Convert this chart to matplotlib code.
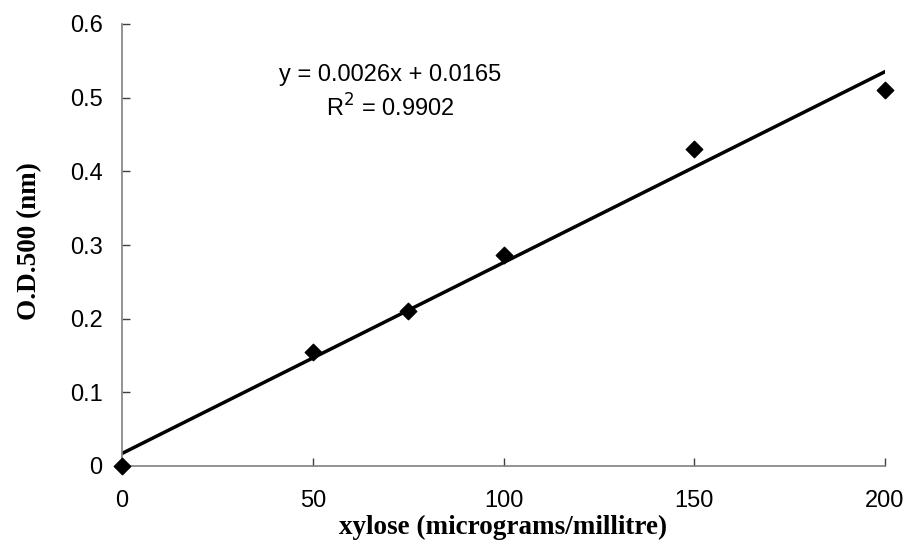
import numpy as np
import matplotlib
matplotlib.use("Agg")
import matplotlib.pyplot as plt

x_vals = [0, 50, 75, 100, 150, 200]
od_vals = [0.0, 0.155, 0.21, 0.287, 0.43, 0.51]
x_ticks = [0, 50, 100, 150, 200]
y_ticks = [0, 0.1, 0.2, 0.3, 0.4, 0.5, 0.6]
y_tick_labels = ["0", "0.1", "0.2", "0.3", "0.4", "0.5", "0.6"]
eq_text = "y = 0.0026x + 0.0165"
r2_text = "R$^2$ = 0.9902"

fig = plt.figure(figsize=(9.09, 5.45), dpi=100)
ax = fig.add_axes([122/909, 1-466/545, 763/909, 442/545])

slope, intercept = np.polyfit(x_vals, od_vals, 1)
xl = np.array([0, 200])
ax.plot(xl, slope*xl + intercept, color="black", lw=2.5, zorder=2)
ax.scatter(x_vals, od_vals, marker="D", s=70, color="black", zorder=3, clip_on=False)

ax.set_xlim(0, 200)
ax.set_ylim(0, 0.6)
ax.set_xticks(x_ticks)
ax.set_yticks(y_ticks)
ax.set_yticklabels(y_tick_labels)
for s in ["top", "right"]:
    ax.spines[s].set_visible(False)
for s in ["left", "bottom"]:
    ax.spines[s].set_color("#808080")
    ax.spines[s].set_linewidth(1.2)
ax.tick_params(direction="in", length=6, width=1, color="#404040",
               labelsize=17)
ax.tick_params(axis="x", pad=17)
ax.tick_params(axis="y", pad=14)
for lab in ax.get_xticklabels() + ax.get_yticklabels():
    lab.set_fontfamily("Liberation Sans")

ax.set_xlabel("xylose (micrograms/millitre)", fontfamily="Liberation Serif",
              fontweight="bold", fontsize=19.5, labelpad=2)
ax.set_ylabel("O.D.500 (nm)", fontfamily="Liberation Serif",
              fontweight="bold", fontsize=19.5, labelpad=20)
ax.yaxis.label.set_y(0.509)

fig.text(390/909, 1-75/545, eq_text, ha="center", va="center",
         fontsize=17, fontfamily="Liberation Sans")
fig.text(390/909, 1-108/545, r2_text, ha="center", va="center",
         fontsize=17, fontfamily="Liberation Sans")

fig.savefig("out.png", dpi=100)
